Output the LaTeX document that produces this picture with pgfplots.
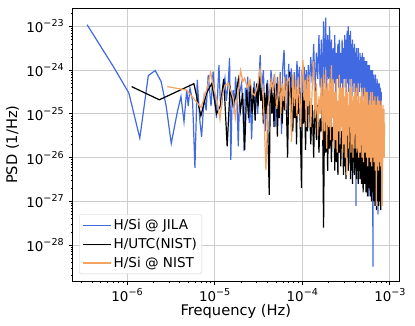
\documentclass[border=0pt]{standalone}
\usepackage{fontspec}
\setmainfont{DejaVu Sans}
\usepackage{pgfplots}
\pgfplotsset{compat=1.18}
\definecolor{jila}{RGB}{65,105,225}
\definecolor{nist}{RGB}{244,164,96}
\definecolor{gridc}{RGB}{205,205,205}
% power-of-ten tick label in the text font
\newcommand{\pw}[1]{10\raisebox{6bp}{\fontsize{9.6}{10}\selectfont −#1}}
\begin{document}
\begin{tikzpicture}
\begin{axis}[
  scale only axis,
  width=326.3bp, height=272.7bp,
  xmode=log, ymode=log,
  xmin=2.4e-7, xmax=1.27e-3,
  ymin=1.5e-29, ymax=2.6e-23,
  xtick={1e-6,1e-5,1e-4,1e-3},
  xticklabels={\pw{6},\pw{5},\pw{4},\pw{3}},
  ytick={1e-28,1e-27,1e-26,1e-25,1e-24,1e-23},
  yticklabels={\pw{28},\pw{27},\pw{26},\pw{25},\pw{24},\pw{23}},
  minor xtick={3e-7,4e-7,5e-7,6e-7,7e-7,8e-7,9e-7,
    2e-6,3e-6,4e-6,5e-6,6e-6,7e-6,8e-6,9e-6,
    2e-5,3e-5,4e-5,5e-5,6e-5,7e-5,8e-5,9e-5,
    2e-4,3e-4,4e-4,5e-4,6e-4,7e-4,8e-4,9e-4},
  minor ytick={2e-29,3e-29,4e-29,5e-29,6e-29,7e-29,8e-29,9e-29,
    2e-28,3e-28,4e-28,5e-28,6e-28,7e-28,8e-28,9e-28,
    2e-27,3e-27,4e-27,5e-27,6e-27,7e-27,8e-27,9e-27,
    2e-26,3e-26,4e-26,5e-26,6e-26,7e-26,8e-26,9e-26,
    2e-25,3e-25,4e-25,5e-25,6e-25,7e-25,8e-25,9e-25,
    2e-24,3e-24,4e-24,5e-24,6e-24,7e-24,8e-24,9e-24,2e-23},
  tick align=outside,
  xtick pos=bottom, ytick pos=left,
  major tick length=3.5bp, minor tick length=2bp,
  every tick/.style={black, line width=0.8bp},
  minor tick style={line width=0.6bp},
  grid=major,
  major grid style={gridc, line width=0.8bp},
  axis line style={line width=0.8bp},
  tick label style={font=\fontsize{13.5}{16}\selectfont},
  yticklabel style={xshift=-2bp},
  xlabel={Frequency (Hz)},
  ylabel={PSD (1/Hz)},
  every axis x label/.style={at={(axis description cs:0.5,-0.1126)}, anchor=center,
    font=\fontsize{14.7}{17}\selectfont},
  every axis y label/.style={at={(axis description cs:-0.184,0.5)}, anchor=center, rotate=90,
    font=\fontsize{14.7}{17}\selectfont},
  legend style={at={(0.0202,0.0257)}, anchor=south west, draw=gray!35,
    rounded corners=2bp, fill=white, fill opacity=0.8, text opacity=1,
    font=\fontsize{13.6}{15}\selectfont, inner xsep=3bp, inner ysep=3bp,
    nodes={inner sep=2bp}, row sep=3bp, cells={anchor=west}},
  legend image code/.code={\draw[#1] (0bp,0bp) -- (28bp,0bp);},
]

% H/Si @ JILA
\addplot[jila, line width=1.2bp] coordinates {
(3.5e-7,1.1e-23) (7.0e-7,1.2e-24) (1.05e-6,3.0e-25) (1.4e-6,2.8e-26) (1.75e-6,7.5e-25)
(2.1e-6,9.8e-25) (2.45e-6,5.5e-25) (2.8e-6,1.5e-25) (3.2e-6,2.1e-26) (3.75e-6,1.1e-25)
(4.13e-6,2.5e-25) (4.47e-6,6.6e-26) (4.8e-6,3.5e-25) (5.0e-6,1.5e-25) (5.23e-6,3.9e-25)
(5.6e-6,2.0e-25) (5.96e-6,5.8e-27) (6.33e-6,6.0e-25) (6.8e-6,6.6e-26) (7.1e-6,3.0e-26)
(7.6e-6,2.5e-25) (8.0e-6,1.2e-25) (8.45e-6,7.8e-25) (9.1e-6,1.5e-25) (9.6e-6,9.3e-25)
(1.0e-5,3.0e-25) (1.05e-5,8.0e-26) (1.12e-5,1.3e-24) (1.16e-5,2.0e-25) (1.2e-5,1.5e-25)
(1.25e-5,4.0e-25) (1.31e-5,6.6e-25) (1.36e-5,2.0e-25) (1.43e-5,5.0e-25) (1.48e-5,1.9e-24)
(1.53e-5,8.9e-27) (1.58e-5,2.0e-25) (1.63e-5,3.5e-25) (1.68e-5,1.0e-25) (1.73e-5,7.1e-25)
(1.8e-5,2.5e-25) (1.86e-5,1.8e-26) (1.93e-5,3.0e-25) (2.03e-5,5.0e-25) (2.1e-5,1.5e-25)
(2.17e-5,1.4e-26) (2.24e-5,4.0e-25) (2.31e-5,2.0e-25) (2.38e-5,7.1e-25) (2.48e-5,6.2e-26)
(2.55e-5,3.0e-25) (2.64e-5,2.6e-26) (2.74e-5,2.0e-25) (2.83e-5,5.5e-25) (2.9e-5,1.5e-25)
(3.0e-5,4.0e-25) (3.1e-5,1.0e-25) (3.2e-5,5.5e-25) (3.31e-5,2.2e-24)
(3.4e-5,3.0e-25) (3.6e-5,1.0e-24) (3.8e-5,4.0e-26) (4.0e-5,6.0e-25) (4.2e-5,1.5e-25)
(4.4e-5,1.0e-24) (4.6e-5,3.0e-25) (4.8e-5,8.0e-25) (5.0e-5,5.0e-26) (5.2e-5,7.0e-25)
(5.4e-5,2.0e-25) (5.6e-5,9.0e-25) (5.8e-5,3.5e-26) (6.0e-5,1.2e-24) (6.2e-5,2.9e-24)
(6.4e-5,3.0e-25) (6.6e-5,8.0e-25) (6.8e-5,1.0e-25) (7.0e-5,1.4e-24) (7.2e-5,2.5e-25)
(7.5e-5,1.1e-24) (7.8e-5,6.0e-26) (8.1e-5,9.0e-25) (8.4e-5,2.0e-25) (8.7e-5,1.6e-24)
(9.0e-5,4.0e-25) (9.3e-5,1.2e-24) (9.6e-5,2.0e-26) (9.9e-5,1.0e-24) (1.02e-4,3.0e-25)
(1.05e-4,1.2e-24) (1.08e-4,2.5e-25) (1.11e-4,1.0e-24) (1.14e-4,1.0e-25) (1.17e-4,1.3e-24)
(1.2e-4,3.0e-25)
(1.25e-4,2.0e-24) (1.30e-4,5.0e-25) (1.35e-4,4.0e-24) (1.40e-4,3.2e-25) (1.45e-4,2.5e-24)
(1.50e-4,6.3e-25) (1.55e-4,6.3e-24) (1.60e-4,4.0e-25) (1.65e-4,5.0e-24) (1.70e-4,2.5e-25)
(1.75e-4,1.3e-23) (1.80e-4,5.0e-25) (1.85e-4,1.6e-23) (1.90e-4,3.2e-25) (1.95e-4,6.3e-24)
(2.00e-4,6.3e-25) (2.05e-4,1.0e-23) (2.10e-4,4.0e-25) (2.15e-4,5.0e-24) (2.20e-4,2.5e-25)
(2.25e-4,3.2e-24) (2.30e-4,5.0e-25) (2.35e-4,6.3e-24) (2.40e-4,3.2e-25) (2.45e-4,2.5e-24)
(2.50e-4,6.3e-25) (2.55e-4,4.0e-24) (2.60e-4,4.0e-25) (2.65e-4,5.0e-24) (2.70e-4,2.5e-25)
(2.75e-4,2.5e-24) (2.80e-4,5.0e-25) (2.85e-4,5.0e-24) (2.90e-4,3.2e-25) (2.95e-4,3.2e-24)
(3.00e-4,6.3e-25) (3.05e-4,6.3e-24) (3.10e-4,4.0e-25) (3.15e-4,5.0e-24) (3.20e-4,2.5e-25)
(3.25e-4,7.9e-24) (3.30e-4,5.0e-25) (3.35e-4,1.0e-23) (3.40e-4,3.2e-25) (3.45e-4,6.3e-24)
(3.50e-4,6.3e-25) (3.55e-4,7.9e-24) (3.60e-4,4.0e-25) (3.65e-4,4.0e-24) (3.70e-4,2.5e-25)
(3.75e-4,5.0e-24) (3.80e-4,5.0e-25) (3.85e-4,3.2e-24) (3.90e-4,3.2e-25) (3.95e-4,4.0e-24)
(4.00e-4,6.3e-25) (4.05e-4,2.5e-24) (4.10e-4,7.9e-28) (4.15e-4,3.2e-24) (4.20e-4,4.0e-25)
(4.25e-4,2.0e-24) (4.30e-4,2.5e-25) (4.35e-4,3.2e-24) (4.40e-4,5.0e-25) (4.45e-4,1.6e-24)
(4.50e-4,3.2e-25) (4.55e-4,2.5e-24) (4.60e-4,6.3e-25) (4.65e-4,2.0e-24) (4.70e-4,4.0e-25)
(4.75e-4,1.3e-24) (4.80e-4,1.6e-26) (4.85e-4,2.5e-24) (4.90e-4,2.5e-25) (4.95e-4,1.6e-24)
(5.00e-4,3.2e-25) (5.05e-4,2.0e-24) (5.10e-4,2.0e-25) (5.15e-4,1.0e-24) (5.20e-4,4.0e-25)
(5.25e-4,1.6e-24) (5.30e-4,6.3e-27) (5.35e-4,1.3e-24) (5.40e-4,2.5e-25) (5.45e-4,1.6e-24)
(5.50e-4,1.6e-25) (5.55e-4,1.0e-24) (5.60e-4,3.2e-25) (5.65e-4,1.3e-24) (5.70e-4,1.3e-27)
(5.75e-4,7.9e-25) (5.80e-4,2.0e-25) (5.85e-4,1.3e-24) (5.90e-4,4.0e-25) (5.95e-4,1.0e-24)
(6.00e-4,2.5e-25) (6.05e-4,6.3e-25) (6.10e-4,1.3e-26) (6.15e-4,1.0e-24) (6.20e-4,1.6e-25)
(6.25e-4,7.9e-25) (6.30e-4,3.2e-26) (6.35e-4,1.0e-24) (6.40e-4,3.2e-29) (6.45e-4,6.3e-25)
(6.50e-4,2.0e-25) (6.55e-4,7.9e-25) (6.60e-4,5.0e-27) (6.65e-4,5.0e-25) (6.70e-4,1.0e-27)
(6.75e-4,6.3e-25) (6.80e-4,2.5e-25) (6.85e-4,7.9e-25) (6.90e-4,2.5e-26) (6.95e-4,4.0e-25)
(7.00e-4,1.6e-25) (7.05e-4,5.0e-25) (7.10e-4,4.0e-27) (7.15e-4,6.3e-25) (7.20e-4,2.0e-25)
(7.25e-4,4.0e-25) (7.30e-4,5.0e-28) (7.35e-4,5.0e-25) (7.40e-4,1.6e-25) (7.45e-4,3.2e-25)
(7.50e-4,1.0e-26) (7.55e-4,5.0e-25) (7.60e-4,2.0e-25) (7.65e-4,2.5e-25) (7.70e-4,1.6e-26)
(7.75e-4,4.0e-25) (7.80e-4,1.6e-25) (7.85e-4,2.5e-25) (7.90e-4,7.9e-27) (7.95e-4,3.2e-25)
(8.00e-4,1.0e-25)
};
\addlegendentry{H/Si @ JILA}

% H/UTC(NIST)
\addplot[black, line width=1.2bp] coordinates {
(1.13e-6,4.2e-25) (2.34e-6,2.1e-25) (5.8e-6,4.9e-25) (6.97e-6,9.0e-26) (8.1e-6,3.0e-25)
(9.3e-6,5.0e-25) (1.05e-5,1.0e-25) (1.16e-5,1.5e-25) (1.27e-5,6.3e-25) (1.39e-5,1.8e-26)
(1.5e-5,4.0e-25) (1.62e-5,1.6e-25) (1.74e-5,2.5e-25) (1.86e-5,6.0e-25) (1.97e-5,1.2e-25)
(2.09e-5,3.0e-25) (2.2e-5,1.5e-26) (2.32e-5,3.5e-25) (2.44e-5,8.0e-26) (2.55e-5,5.0e-25)
(2.67e-5,1.0e-25) (2.78e-5,4.0e-25) (2.9e-5,7.0e-26) (3.02e-5,5.0e-25) (3.13e-5,1.5e-25)
(3.25e-5,7.1e-25) (3.37e-5,2.0e-25) (3.48e-5,4.0e-25) (3.6e-5,6.0e-26) (3.71e-5,3.0e-25)
(3.83e-5,1.0e-25) (3.95e-5,5.0e-25) (4.06e-5,3.0e-26) (4.2e-5,1.4e-27) (4.3e-5,2.0e-25)
(4.4e-5,6.0e-25) (4.5e-5,1.0e-25) (4.64e-5,3.0e-25) (4.76e-5,5.0e-26) (4.87e-5,4.0e-25)
(5.0e-5,1.5e-25) (5.1e-5,5.0e-25) (5.2e-5,3.0e-26) (5.34e-5,2.5e-25) (5.45e-5,8.0e-26)
(5.7e-5,4.0e-25) (5.9e-5,6.0e-26) (6.1e-5,3.0e-25) (6.3e-5,1.2e-25) (6.5e-5,5.0e-25)
(6.8e-5,1.0e-26) (7.0e-5,3.0e-25) (7.2e-5,9.3e-25) (7.4e-5,1.0e-25) (7.6e-5,4.0e-25)
(7.8e-5,4.0e-26) (8.0e-5,3.0e-25) (8.2e-5,8.0e-26) (8.4e-5,5.0e-25) (8.6e-5,2.0e-26)
(8.8e-5,3.0e-25) (9.0e-5,1.0e-25) (9.2e-5,4.0e-25) (9.5e-5,5.0e-26) (9.8e-5,2.0e-27)
(1.0e-4,3.0e-25) (1.03e-4,6.0e-26) (1.06e-4,5.0e-25) (1.09e-4,1.5e-26) (1.12e-4,3.0e-25)
(1.15e-4,4.0e-26) (1.18e-4,6.0e-25)
(1.20e-4,3.2e-25) (1.25e-4,2.0e-26) (1.30e-4,1.6e-25) (1.35e-4,1.0e-26) (1.40e-4,4.0e-25)
(1.45e-4,2.5e-26) (1.50e-4,1.6e-25) (1.55e-4,1.3e-26) (1.60e-4,7.9e-26) (1.65e-4,4.0e-26)
(1.70e-4,2.0e-25) (1.75e-4,2.5e-28) (1.80e-4,2.5e-25) (1.85e-4,1.3e-26) (1.90e-4,1.0e-25)
(1.95e-4,5.0e-27) (2.00e-4,2.5e-25) (2.05e-4,1.6e-26) (2.10e-4,1.3e-25) (2.15e-4,7.9e-27)
(2.20e-4,5.0e-26) (2.25e-4,2.5e-26) (2.30e-4,1.3e-25) (2.35e-4,5.0e-27) (2.40e-4,1.6e-25)
(2.45e-4,7.9e-27) (2.50e-4,6.3e-26) (2.55e-4,4.0e-27) (2.60e-4,1.6e-25) (2.65e-4,1.3e-26)
(2.70e-4,7.9e-26) (2.75e-4,6.3e-27) (2.80e-4,4.0e-26) (2.85e-4,1.6e-26) (2.90e-4,7.9e-26)
(2.95e-4,4.0e-27) (3.00e-4,1.0e-25) (3.05e-4,6.3e-27) (3.10e-4,5.0e-26) (3.15e-4,3.2e-27)
(3.20e-4,1.3e-25) (3.25e-4,1.0e-26) (3.30e-4,6.3e-26) (3.35e-4,5.0e-27) (3.40e-4,3.2e-26)
(3.45e-4,1.6e-26) (3.50e-4,6.3e-26) (3.55e-4,3.2e-27) (3.60e-4,7.9e-26) (3.65e-4,5.0e-27)
(3.70e-4,4.0e-26) (3.75e-4,2.5e-27) (3.80e-4,7.9e-26) (3.85e-4,7.9e-27) (3.90e-4,4.0e-26)
(3.95e-4,4.0e-27) (4.00e-4,2.0e-26) (4.05e-4,1.3e-26) (4.10e-4,5.0e-26) (4.15e-4,3.2e-27)
(4.20e-4,6.3e-26) (4.25e-4,5.0e-27) (4.30e-4,3.2e-26) (4.35e-4,2.5e-27) (4.40e-4,6.3e-26)
(4.45e-4,6.3e-27) (4.50e-4,3.2e-26) (4.55e-4,3.2e-27) (4.60e-4,1.6e-26) (4.65e-4,1.0e-26)
(4.70e-4,4.0e-26) (4.75e-4,2.5e-27) (4.80e-4,5.0e-26) (4.85e-4,4.0e-27) (4.90e-4,2.0e-26)
(4.95e-4,1.6e-27) (5.00e-4,5.0e-26) (5.05e-4,5.0e-27) (5.10e-4,2.5e-26) (5.15e-4,2.5e-27)
(5.20e-4,1.3e-26) (5.25e-4,7.9e-27) (5.30e-4,3.2e-26) (5.35e-4,1.6e-27) (5.40e-4,3.2e-26)
(5.45e-4,2.5e-27) (5.50e-4,1.6e-26) (5.55e-4,1.3e-27) (5.60e-4,4.0e-26) (5.65e-4,4.0e-27)
(5.70e-4,2.0e-26) (5.75e-4,2.0e-27) (5.80e-4,1.0e-26) (5.85e-4,6.3e-27) (5.90e-4,2.0e-26)
(5.95e-4,1.3e-27) (6.00e-4,2.5e-26) (6.05e-4,2.0e-27) (6.10e-4,1.3e-26) (6.15e-4,1.0e-27)
(6.20e-4,3.2e-26) (6.25e-4,3.2e-27) (6.30e-4,1.6e-26) (6.35e-4,1.6e-27) (6.40e-4,7.9e-27)
(6.45e-4,5.0e-27) (6.50e-4,1.6e-26) (6.55e-4,1.0e-27) (6.60e-4,2.0e-26) (6.65e-4,1.6e-27)
(6.70e-4,1.0e-26) (6.75e-4,7.9e-28) (6.80e-4,2.5e-26) (6.85e-4,2.5e-27) (6.90e-4,1.3e-26)
(6.95e-4,1.3e-27) (7.00e-4,2.5e-26) (7.05e-4,6.3e-28) (7.10e-4,1.6e-26) (7.15e-4,4.0e-27)
(7.20e-4,2.0e-26) (7.25e-4,1.0e-27) (7.30e-4,1.3e-26) (7.35e-4,2.0e-27) (7.40e-4,2.0e-26)
(7.45e-4,7.9e-28) (7.50e-4,1.0e-26) (7.55e-4,2.5e-27) (7.60e-4,1.6e-26) (7.65e-4,1.0e-27)
(7.70e-4,7.9e-27) (7.75e-4,3.2e-27) (7.80e-4,1.3e-26) (7.85e-4,6.3e-28) (7.90e-4,6.3e-27)
};
\addlegendentry{H/UTC(NIST)}

% H/Si @ NIST
\addplot[nist, line width=1.2bp] coordinates {
(2.88e-6,4.2e-25) (4.8e-6,3.5e-25) (7.0e-6,1.4e-25) (8.1e-6,3.5e-25) (9.0e-6,8.9e-25)
(1.0e-5,3.2e-25) (1.07e-5,2.0e-25) (1.15e-5,7.6e-26) (1.22e-5,2.5e-25) (1.31e-5,4.5e-25)
(1.43e-5,5.0e-25) (1.52e-5,3.5e-25) (1.63e-5,2.3e-25) (1.72e-5,8.0e-26) (1.98e-5,9.8e-25)
(2.1e-5,5.5e-25) (2.2e-5,6.6e-25) (2.35e-5,4.0e-25) (2.53e-5,6.0e-25) (2.7e-5,3.0e-25)
(2.87e-5,2.6e-25) (3.1e-5,4.5e-25) (3.3e-5,1.05e-24) (3.6e-5,2.1e-25) (3.85e-5,5.2e-27)
(4.05e-5,1.5e-25) (4.2e-5,2.1e-25) (4.4e-5,6.0e-25) (4.57e-5,3.5e-25) (4.87e-5,7.1e-25)
(5.1e-5,1.3e-25) (5.3e-5,2.5e-25) (5.5e-5,8.0e-25) (5.7e-5,1.0e-25) (5.9e-5,5.0e-25)
(6.1e-5,2.0e-25) (6.3e-5,7.0e-25) (6.5e-5,1.2e-25) (6.7e-5,5.5e-25) (7.1e-5,6.5e-25)
(7.3e-5,2.0e-25) (7.55e-5,2.3e-26) (7.8e-5,8.0e-25) (8.1e-5,1.5e-25) (8.4e-5,6.0e-25)
(8.7e-5,9.0e-26) (9.0e-5,7.0e-25) (9.3e-5,2.0e-25) (9.6e-5,5.0e-26) (9.9e-5,8.0e-25)
(1.02e-4,1.7e-24) (1.05e-4,2.0e-25) (1.08e-4,6.0e-25) (1.11e-4,5.0e-26) (1.14e-4,7.0e-25)
(1.17e-4,1.5e-25)
(1.20e-4,7.9e-25) (1.25e-4,5.0e-26) (1.30e-4,4.0e-25) (1.35e-4,1.6e-24) (1.40e-4,7.9e-26)
(1.45e-4,5.0e-25) (1.50e-4,3.2e-26) (1.55e-4,2.5e-25) (1.60e-4,1.0e-25) (1.65e-4,6.3e-25)
(1.70e-4,2.5e-26) (1.75e-4,7.9e-25) (1.80e-4,4.0e-26) (1.85e-4,1.0e-24) (1.90e-4,1.6e-26)
(1.95e-4,5.0e-25) (2.00e-4,5.0e-26) (2.05e-4,6.3e-25) (2.10e-4,2.5e-26) (2.15e-4,1.3e-24)
(2.20e-4,7.9e-26) (2.25e-4,6.3e-25) (2.30e-4,1.6e-26) (2.35e-4,3.2e-25) (2.40e-4,2.5e-26)
(2.45e-4,6.3e-25) (2.50e-4,1.3e-26) (2.55e-4,2.0e-25) (2.60e-4,4.0e-26) (2.65e-4,7.9e-25)
(2.70e-4,2.0e-26) (2.75e-4,4.0e-25) (2.80e-4,5.0e-26) (2.85e-4,4.0e-25) (2.90e-4,1.3e-26)
(2.95e-4,5.0e-25) (3.00e-4,2.0e-26) (3.05e-4,2.5e-25) (3.10e-4,1.0e-26) (3.15e-4,6.3e-25)
(3.20e-4,4.0e-27) (3.25e-4,3.2e-25) (3.30e-4,3.2e-26) (3.35e-4,1.6e-25) (3.40e-4,1.6e-26)
(3.45e-4,4.0e-25) (3.50e-4,5.0e-26) (3.55e-4,4.0e-25) (3.60e-4,1.3e-26) (3.65e-4,6.3e-25)
(3.70e-4,2.0e-26) (3.75e-4,2.0e-25) (3.80e-4,1.0e-26) (3.85e-4,2.5e-25) (3.90e-4,3.2e-26)
(3.95e-4,5.0e-25) (4.00e-4,1.6e-26) (4.05e-4,3.2e-25) (4.10e-4,5.0e-26) (4.15e-4,4.0e-25)
(4.20e-4,1.3e-26) (4.25e-4,2.0e-25) (4.30e-4,2.0e-26) (4.35e-4,5.0e-25) (4.40e-4,1.0e-26)
(4.45e-4,2.5e-25) (4.50e-4,2.5e-26) (4.55e-4,1.3e-25) (4.60e-4,1.3e-26) (4.65e-4,2.5e-25)
(4.70e-4,4.0e-26) (4.75e-4,3.2e-25) (4.80e-4,1.0e-26) (4.85e-4,4.0e-25) (4.90e-4,1.6e-26)
(4.95e-4,1.6e-25) (5.00e-4,7.9e-27) (5.05e-4,2.0e-25) (5.10e-4,2.5e-26) (5.15e-4,4.0e-25)
(5.20e-4,1.3e-26) (5.25e-4,2.5e-25) (5.30e-4,4.0e-26) (5.35e-4,3.2e-25) (5.40e-4,1.0e-26)
(5.45e-4,1.6e-25) (5.50e-4,1.3e-26) (5.55e-4,3.2e-25) (5.60e-4,6.3e-27) (5.65e-4,1.6e-25)
(5.70e-4,2.0e-26) (5.75e-4,7.9e-26) (5.80e-4,1.0e-26) (5.85e-4,2.0e-25) (5.90e-4,3.2e-26)
(5.95e-4,2.5e-25) (6.00e-4,7.9e-27) (6.05e-4,3.2e-25) (6.10e-4,1.3e-26) (6.15e-4,1.3e-25)
(6.20e-4,6.3e-27) (6.25e-4,1.6e-25) (6.30e-4,2.0e-26) (6.35e-4,3.2e-25) (6.40e-4,1.0e-26)
(6.45e-4,2.0e-25) (6.50e-4,3.2e-26) (6.55e-4,2.0e-25) (6.60e-4,7.9e-27) (6.65e-4,1.0e-25)
(6.70e-4,1.3e-26) (6.75e-4,2.5e-25) (6.80e-4,5.0e-27) (6.85e-4,1.3e-25) (6.90e-4,1.6e-26)
(6.95e-4,6.3e-26) (7.00e-4,7.9e-28) (7.05e-4,1.6e-25) (7.10e-4,2.5e-26) (7.15e-4,2.0e-25)
(7.20e-4,6.3e-27) (7.25e-4,2.5e-25) (7.30e-4,1.0e-26) (7.35e-4,1.0e-25) (7.40e-4,5.0e-27)
(7.45e-4,1.0e-25) (7.50e-4,1.6e-26) (7.55e-4,2.0e-25) (7.60e-4,7.9e-27) (7.65e-4,1.3e-25)
(7.70e-4,2.5e-26) (7.75e-4,1.6e-25) (7.80e-4,6.3e-27) (7.85e-4,7.9e-26) (7.90e-4,1.0e-26)
(7.95e-4,2.0e-25) (8.00e-4,5.0e-27) (8.05e-4,1.0e-25) (8.10e-4,1.6e-26) (8.15e-4,1.3e-25)
(8.20e-4,7.9e-28) (8.25e-4,1.3e-25) (8.30e-4,7.9e-27) (8.35e-4,1.6e-25) (8.40e-4,1.0e-26)
(8.45e-4,1.0e-25) (8.50e-4,1.3e-26) (8.55e-4,1.3e-25) (8.60e-4,1.0e-26) (8.65e-4,6.3e-26)
(8.70e-4,3.2e-26)
};
\addlegendentry{H/Si @ NIST}

\end{axis}
\pgfresetboundingbox
\path ([shift={(-72.7bp,-45bp)}]current axis.south west) rectangle ([shift={(16bp,8.3bp)}]current axis.north east);
\end{tikzpicture}
\end{document}
